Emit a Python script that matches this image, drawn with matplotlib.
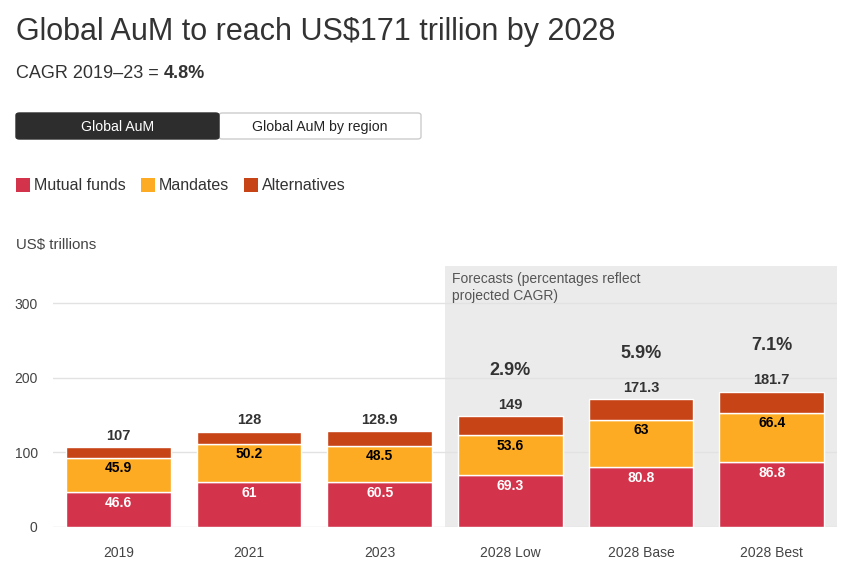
import matplotlib.pyplot as plt
from matplotlib.patches import FancyBboxPatch, Rectangle

plt.rcParams['font.family'] = ['Liberation Sans', 'DejaVu Sans']

CATEGORIES = ["2019", "2021", "2023", "2028 Low", "2028 Base", "2028 Best"]
MUTUAL_FUNDS = [46.6, 61, 60.5, 69.3, 80.8, 86.8]
MANDATES = [45.9, 50.2, 48.5, 53.6, 63, 66.4]
TOTALS = [107, 128, 128.9, 149, 171.3, 181.7]
ALTERNATIVES = [t - m - d for t, m, d in zip(TOTALS, MUTUAL_FUNDS, MANDATES)]
CAGR = ["", "", "", "2.9%", "5.9%", "7.1%"]

RED = "#d3344b"
ORANGE = "#fdab23"
DARK_ORANGE = "#c64416"

W, H = 858, 579


def fx(px):
    return px / W


def fy(py):
    return 1 - py / H


def main():
    fig = plt.figure(figsize=(W / 100, H / 100), dpi=100)
    ax = fig.add_axes([fx(53), fy(527), fx(837) - fx(53), fy(266) - fy(527)])

    x = list(range(len(CATEGORIES)))
    # forecast shading
    ax.axvspan(2.5, 5.5, color="#ebebeb", zorder=0, lw=0)
    for v in [100, 200, 300]:
        ax.axhline(v, color="#e2e2e2", lw=1, zorder=1)
    ax.axhline(0, color="#dddddd", lw=1, zorder=1)

    bw = 0.8
    ax.bar(x, MUTUAL_FUNDS, bw, color=RED, edgecolor="white", lw=1, zorder=2)
    ax.bar(x, MANDATES, bw, bottom=MUTUAL_FUNDS, color=ORANGE, edgecolor="white", lw=1, zorder=2)
    bottoms = [a + b for a, b in zip(MUTUAL_FUNDS, MANDATES)]
    ax.bar(x, ALTERNATIVES, bw, bottom=bottoms, color=DARK_ORANGE, edgecolor="white", lw=1, zorder=2)

    for i in x:
        ax.annotate(f"{MUTUAL_FUNDS[i]:g}", (i, MUTUAL_FUNDS[i]), xytext=(0, -8), textcoords="offset points",
                    ha="center", va="center", color="white", fontsize=10, fontweight="semibold", zorder=3)
        ax.annotate(f"{MANDATES[i]:g}", (i, bottoms[i]), xytext=(0, -7.5), textcoords="offset points",
                    ha="center", va="center", color="black", fontsize=10, fontweight="semibold", zorder=3)
        ax.annotate(f"{TOTALS[i]:g}", (i, TOTALS[i]), xytext=(0, 8), textcoords="offset points",
                    ha="center", va="center", color="#333333", fontsize=10.5, fontweight="semibold", zorder=3)
        if CAGR[i]:
            ax.annotate(CAGR[i], (i, TOTALS[i]), xytext=(0, 33), textcoords="offset points",
                        ha="center", va="center", color="#333333", fontsize=13, fontweight="semibold", zorder=3)

    ax.text(2.555, 342, "Forecasts (percentages reflect\nprojected CAGR)", ha="left", va="top",
            fontsize=10, color="#555555", linespacing=1.3)

    ax.set_xlim(-0.5, 5.5)
    ax.set_ylim(0, 350)
    ax.set_yticks([0, 100, 200, 300])
    ax.set_xticks(x)
    ax.set_xticklabels(CATEGORIES)
    ax.tick_params(axis="both", length=0, labelsize=10, colors="#444444")
    ax.tick_params(axis="y", pad=11)
    ax.tick_params(axis="x", pad=14)
    for s in ax.spines.values():
        s.set_visible(False)

    # header
    fig.text(fx(16), fy(32), "Global AuM to reach US$171 trillion by 2028", fontsize=22,
             color="#333333", va="center", ha="left")
    t = fig.text(fx(16), fy(74), "CAGR 2019–23 = ", fontsize=13, color="#333333", va="center", ha="left")
    fig.canvas.draw()
    bb = t.get_window_extent()
    fig.text(bb.x1 / W, fy(74), "4.8%", fontsize=13, fontweight="bold", color="#333333", va="center", ha="left")

    # toggle buttons
    fig.patches.append(FancyBboxPatch((fx(219), fy(139)), fx(421) - fx(219), fy(113) - fy(139),
                                      boxstyle="round,pad=0,rounding_size=0.004", transform=fig.transFigure,
                                      facecolor="white", edgecolor="#cccccc", lw=1))
    fig.patches.append(FancyBboxPatch((fx(16), fy(139)), fx(219) - fx(16), fy(113) - fy(139),
                                      boxstyle="round,pad=0,rounding_size=0.004", transform=fig.transFigure,
                                      facecolor="#2d2d2d", edgecolor="#2d2d2d", lw=1))
    fig.text(fx(117.5), fy(127), "Global AuM", fontsize=10.2, color="white", ha="center", va="center")
    fig.text(fx(320), fy(127), "Global AuM by region", fontsize=10.2, color="#222222", ha="center", va="center")

    # legend
    for x0, label, c in [(16, "Mutual funds", RED), (141, "Mandates", ORANGE), (244, "Alternatives", DARK_ORANGE)]:
        fig.patches.append(Rectangle((fx(x0), fy(192)), fx(14), fy(178) - fy(192), transform=fig.transFigure,
                                     facecolor=c, edgecolor="none"))
        fig.text(fx(x0 + 18), fy(185.5), label, fontsize=11.5, color="#333333", ha="left", va="center")

    fig.text(fx(16), fy(245), "US$ trillions", fontsize=10.8, color="#444444", ha="left", va="center")

    fig.savefig("out.png", dpi=100)


if __name__ == "__main__":
    main()
